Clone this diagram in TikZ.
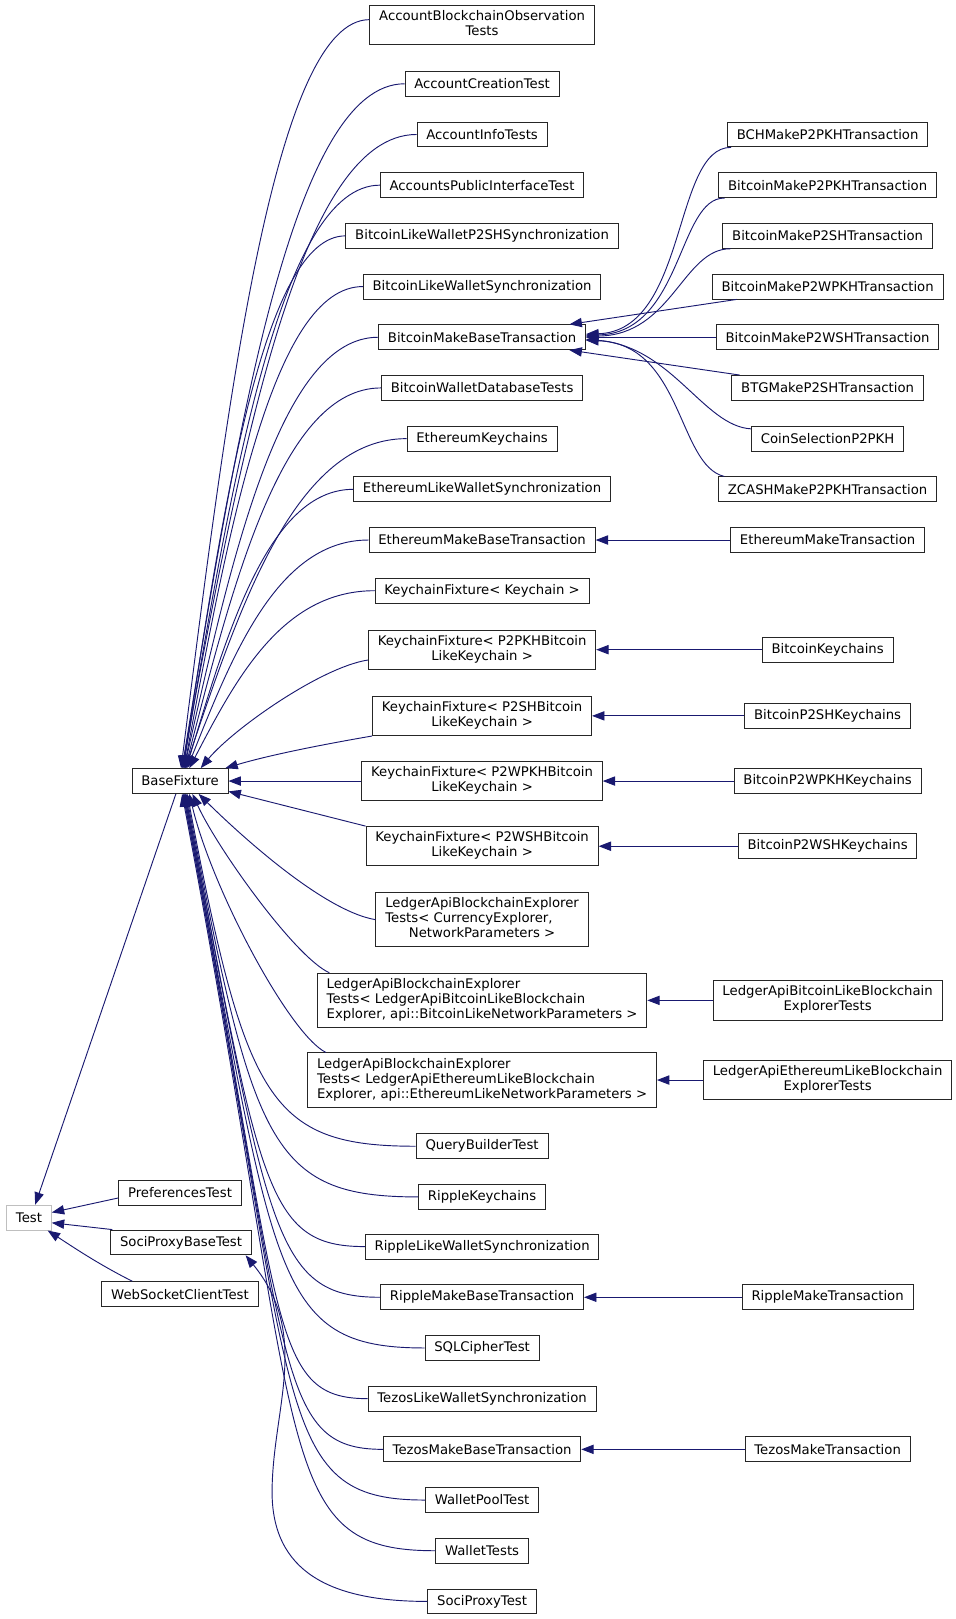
\documentclass[tikz,border=0pt]{standalone}
\usepackage{fontspec}
\setmainfont{DejaVu Sans}
\usetikzlibrary{arrows.meta,calc}
\definecolor{edgec}{HTML}{191970}
\definecolor{extc}{HTML}{BFBFBF}
\newcommand\twol[2]{\begin{tabular}{@{}l@{}}#1\\\multicolumn{1}{@{}c@{}}{#2}\end{tabular}}
\newcommand\threel[3]{\begin{tabular}{@{}l@{}}#1\\#2\\\multicolumn{1}{@{}c@{}}{#3}\end{tabular}}
\newcommand\bez[5]{\draw[edge] let \p1=(#1), \p2=(#2) in (\p1) .. controls ({\x1+#3*(\x2-\x1)},{\y1}) and ({\x2+#4*(\x1-\x2)},{\y2+#5*(\y1-\y2)}) .. (\p2);}
\newcommand\bezl[5]{\draw[edge] let \p1=(#1), \p2=(#2) in (\p1) .. controls ({\x1+#3*(\x2-\x1)},{\y1}) and ({\x2+#4*#5*(\y2-\y1)},{\y2+#5*(\y1-\y2)}) .. (\p2);}
\tikzset{
  cls/.style={draw=black!85, line width=0.9pt, fill=white, inner xsep=9pt, inner ysep=4.5pt,
    minimum height=24pt, font=\fontsize{12.8}{14.5}\selectfont},
  ext/.style={cls, draw=extc},
  edge/.style={draw=edgec, line width=0.9pt, -{Triangle[length=12pt,width=9pt]}},
}
\begin{document}
\begin{tikzpicture}[x=1pt,y=-1pt]
\useasboundingbox (0,0) rectangle (924,1565);
% left column
\node[ext] (test) at (28,1177) {Test};
\node[cls] (bf) at (174,755) {BaseFixture};
\node[cls] (pref) at (174,1153) {PreferencesTest};
\node[cls] (spbt) at (175,1201) {SociProxyBaseTest};
\node[cls] (wsct) at (174,1251) {WebSocketClientTest};
% middle column
\node[cls] (abo) at (466,24) {\twol{AccountBlockchainObservation}{Tests}};
\node[cls] (act) at (466,81) {AccountCreationTest};
\node[cls] (ait) at (466,130) {AccountInfoTests};
\node[cls] (apit) at (466,179) {AccountsPublicInterfaceTest};
\node[cls] (blwp) at (466,228) {BitcoinLikeWalletP2SHSynchronization};
\node[cls] (blws) at (466,277) {BitcoinLikeWalletSynchronization};
\node[cls] (bmbt) at (466,326) {BitcoinMakeBaseTransaction};
\node[cls] (bwdt) at (466,375) {BitcoinWalletDatabaseTests};
\node[cls] (ek) at (466,424) {EthereumKeychains};
\node[cls] (elws) at (466,473) {EthereumLikeWalletSynchronization};
\node[cls] (embt) at (466,522) {EthereumMakeBaseTransaction};
\node[cls] (kfk) at (466,571) {KeychainFixture< Keychain >};
\node[cls] (kfa) at (466,628) {\twol{KeychainFixture< P2PKHBitcoin}{LikeKeychain >}};
\node[cls] (kfb) at (466,692) {\twol{KeychainFixture< P2SHBitcoin}{LikeKeychain >}};
\node[cls] (kfc) at (466,755) {\twol{KeychainFixture< P2WPKHBitcoin}{LikeKeychain >}};
\node[cls] (kfd) at (466,818) {\twol{KeychainFixture< P2WSHBitcoin}{LikeKeychain >}};
\node[cls] (lce) at (466,889) {\threel{LedgerApiBlockchainExplorer}{Tests< CurrencyExplorer,}{NetworkParameters >}};
\node[cls] (lbe) at (466,967) {\threel{LedgerApiBlockchainExplorer}{Tests< LedgerApiBitcoinLikeBlockchain}{Explorer, api::BitcoinLikeNetworkParameters >}};
\node[cls] (lee) at (466,1044) {\threel{LedgerApiBlockchainExplorer}{Tests< LedgerApiEthereumLikeBlockchain}{Explorer, api::EthereumLikeNetworkParameters >}};
\node[cls] (qbt) at (466,1108) {QueryBuilderTest};
\node[cls] (rk) at (466,1157) {RippleKeychains};
\node[cls] (rlws) at (466,1205) {RippleLikeWalletSynchronization};
\node[cls] (rmbt) at (466,1254) {RippleMakeBaseTransaction};
\node[cls] (sql) at (466,1303) {SQLCipherTest};
\node[cls] (tlws) at (466,1352) {TezosLikeWalletSynchronization};
\node[cls] (tmbt) at (466,1401) {TezosMakeBaseTransaction};
\node[cls] (wpt) at (466,1450) {WalletPoolTest};
\node[cls] (wt) at (466,1499) {WalletTests};
\node[cls] (spt) at (466,1548) {SociProxyTest};
% right column
\node[cls] (bch) at (800,130) {BCHMakeP2PKHTransaction};
\node[cls] (bp2pkh) at (800,179) {BitcoinMakeP2PKHTransaction};
\node[cls] (bp2sh) at (800,228) {BitcoinMakeP2SHTransaction};
\node[cls] (bp2wpkh) at (800,277) {BitcoinMakeP2WPKHTransaction};
\node[cls] (bp2wsh) at (800,326) {BitcoinMakeP2WSHTransaction};
\node[cls] (btg) at (800,375) {BTGMakeP2SHTransaction};
\node[cls] (csp) at (800,424) {CoinSelectionP2PKH};
\node[cls] (zcash) at (800,473) {ZCASHMakeP2PKHTransaction};
\node[cls] (emt) at (800,522) {EthereumMakeTransaction};
\node[cls] (bk) at (800,628) {BitcoinKeychains};
\node[cls] (bp2shk) at (800,692) {BitcoinP2SHKeychains};
\node[cls] (bp2wpkhk) at (800,755) {BitcoinP2WPKHKeychains};
\node[cls] (bp2wshk) at (800,818) {BitcoinP2WSHKeychains};
\node[cls] (lbbe) at (800,967) {\twol{LedgerApiBitcoinLikeBlockchain}{ExplorerTests}};
\node[cls] (lebe) at (800,1044) {\twol{LedgerApiEthereumLikeBlockchain}{ExplorerTests}};
\node[cls] (rmt) at (800,1254) {RippleMakeTransaction};
\node[cls] (tmt) at (800,1401) {TezosMakeTransaction};
% edges to BaseFixture (upper)
\bez{[yshift=5pt]abo.west}{[xshift=1pt]bf.north}{0.5}{0.25}{0.5}
\bez{act.west}{[xshift=2pt]bf.north}{0.5}{0.25}{0.5}
\bez{ait.west}{[xshift=2pt]bf.north}{0.5}{0.25}{0.5}
\bez{apit.west}{[xshift=3pt]bf.north}{0.5}{0.25}{0.5}
\bez{blwp.west}{[xshift=3pt]bf.north}{0.5}{0.25}{0.5}
\bez{blws.west}{[xshift=4pt]bf.north}{0.5}{0.25}{0.5}
\bez{bmbt.west}{[xshift=4pt]bf.north}{0.5}{0.25}{0.5}
\bez{bwdt.west}{[xshift=5pt]bf.north}{0.5}{0.25}{0.5}
\bez{ek.west}{[xshift=5pt]bf.north}{0.5}{0.25}{0.5}
\bez{elws.west}{[xshift=6pt]bf.north}{0.5}{0.25}{0.5}
\bez{embt.west}{[xshift=7pt]bf.north}{0.5}{0.25}{0.5}
\bez{kfk.west}{[xshift=9pt]bf.north}{0.5}{0.25}{0.5}
\draw[edge] ([yshift=-10pt]kfa.west) .. controls (310,645) and (225,705) .. ([xshift=20pt]bf.north);
\draw[edge] (kfb.south west) .. controls (310,720) and (260,730) .. ([xshift=-3pt]bf.north east);
\draw[edge] (kfc.west) -- (bf.east);
\draw[edge] (kfd.north west) -- ([yshift=-10pt]bf.east);
% edges to BaseFixture (lower)
\draw[edge] (lce.west) .. controls (310,880) and (225,800) .. ([xshift=18pt]bf.south);
\draw[edge] ([xshift=12pt]lbe.north west) .. controls (285,925) and (210,820) .. ([xshift=12pt]bf.south);
\draw[edge] ([xshift=18pt]lee.north west) .. controls (280,1000) and (205,860) .. ([xshift=9pt]bf.south);
\bezl{qbt.west}{[xshift=7pt]bf.south}{0.64}{0.19}{0.87}
\bezl{rk.west}{[xshift=6pt]bf.south}{0.64}{0.19}{0.87}
\bezl{rlws.west}{[xshift=5pt]bf.south}{0.55}{0.19}{0.87}
\bezl{rmbt.west}{[xshift=5pt]bf.south}{0.55}{0.19}{0.87}
\bezl{sql.west}{[xshift=4pt]bf.south}{0.64}{0.19}{0.87}
\bezl{tlws.west}{[xshift=4pt]bf.south}{0.55}{0.19}{0.87}
\bezl{tmbt.west}{[xshift=3pt]bf.south}{0.55}{0.19}{0.87}
\bezl{wpt.west}{[xshift=3pt]bf.south}{0.64}{0.19}{0.87}
\bezl{wt.west}{[xshift=2pt]bf.south}{0.65}{0.19}{0.87}
% to Test
\draw[edge] ([xshift=-4pt]bf.south) -- ([xshift=6pt]test.north);
\draw[edge] ([yshift=-5pt]pref.west) -- ([yshift=5pt]test.east);
\draw[edge] ([xshift=2pt]spbt.north west) -- ([yshift=-5pt]test.east);
\draw[edge] ([xshift=30pt]wsct.north west) .. controls (95,1222) and (70,1205) .. ([xshift=-4pt]test.south east);
% SociProxyTest
\draw[edge] (spt.west) .. controls (320,1548) and (262,1520) .. (263,1440) .. controls (264,1360) and (300,1290) .. ([xshift=-6pt]spbt.south east);
% right fan into BitcoinMakeBaseTransaction
\draw[edge] ([xshift=4pt]bch.south west) .. controls (650,142) and (665,320) .. ([yshift=3pt]bmbt.east);
\draw[edge] ([xshift=6pt]bp2pkh.south west) .. controls (655,191) and (660,322) .. ([yshift=2pt]bmbt.east);
\draw[edge] ([xshift=8pt]bp2sh.south west) .. controls (660,240) and (650,324) .. ([yshift=1pt]bmbt.east);
\draw[edge] ([xshift=24pt]bp2wpkh.south west) -- ([xshift=-16pt]bmbt.north east);
\draw[edge] (bp2wsh.west) -- (bmbt.east);
\draw[edge] ([xshift=8pt]btg.north west) -- ([xshift=-16pt]bmbt.south east);
\draw[edge] ([yshift=-3pt]csp.north west) .. controls (680,412) and (650,335) .. ([yshift=-2pt]bmbt.east);
\draw[edge] ([xshift=6pt]zcash.north west) .. controls (655,450) and (660,332) .. ([yshift=-3pt]bmbt.east);
% horizontal
\draw[edge] (emt) -- (embt);
\draw[edge] (bk) -- (kfa);
\draw[edge] (bp2shk) -- (kfb);
\draw[edge] (bp2wpkhk) -- (kfc);
\draw[edge] (bp2wshk) -- (kfd);
\draw[edge] (lbbe) -- (lbe);
\draw[edge] (lebe) -- (lee);
\draw[edge] (rmt) -- (rmbt);
\draw[edge] (tmt) -- (tmbt);
\end{tikzpicture}
\end{document}
